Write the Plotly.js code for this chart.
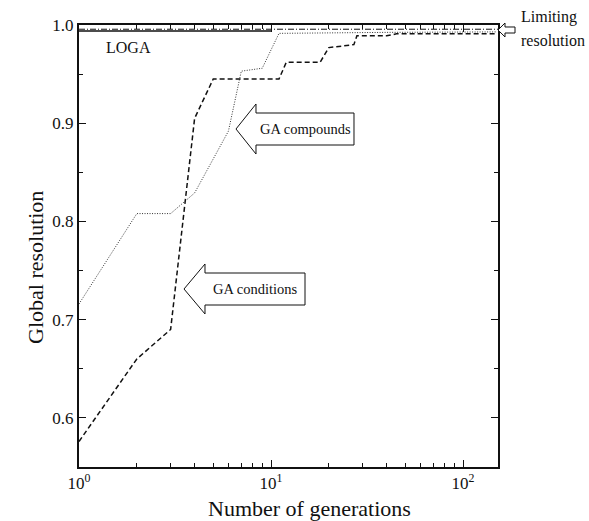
<!DOCTYPE html>
<html>
<head>
<meta charset="utf-8">
<script src="https://cdn.plot.ly/plotly-3.0.1.min.js"></script>
<style>html,body{margin:0;padding:0;background:#fff}</style>
</head>
<body>
<div id="chart" style="width:589px;height:521px"></div>
<script>
// GA conditions (dashed)
const condGen = [1, 2, 3, 4, 5, 11, 12, 18, 20, 27, 28, 40, 45, 150];
const condRes = [0.576, 0.660, 0.690, 0.905, 0.945, 0.945, 0.962, 0.962, 0.977, 0.980, 0.989, 0.989, 0.991, 0.991];
// GA compounds (dotted)
const compGen = [1, 2, 3, 4, 6, 7, 9, 11, 40, 150];
const compRes = [0.716, 0.808, 0.808, 0.829, 0.892, 0.953, 0.956, 0.9915, 0.9925, 0.993];
// LOGA (solid)
const logaGen = [1, 10];
const logaRes = [0.994, 0.994];
// Limiting resolution (dash-dot)
const limGen = [1, 152];
const limRes = [0.9957, 0.9957];

const xTickVals = [1, 10, 100];
const xTickText = ['10<sup>0</sup>', '10<sup>1</sup>', '10<sup>2</sup>'];
const xMinor = [2,3,4,5,6,7,8,9,20,30,40,50,60,70,80,90];
const yTickVals = [0.6, 0.7, 0.8, 0.9, 1.0];
const yTickText = ['0.6', '0.7', '0.8', '0.9', '1.0'];
const yMinor = [0.65, 0.75, 0.85, 0.95];

// plot area in pixels
const L = 79, R = 498, T = 25, B = 467;
const px = v => (v - L) / (R - L);
const py = v => (B - v) / (B - T);
function arrowPath(tipX, tipY, headX, headHalf, shaftHalf, endX) {
  const pts = [
    [tipX, tipY], [headX, tipY - headHalf], [headX, tipY - shaftHalf],
    [endX, tipY - shaftHalf], [endX, tipY + shaftHalf], [headX, tipY + shaftHalf],
    [headX, tipY + headHalf]
  ];
  return 'M ' + pts.map(p => px(p[0]).toFixed(4) + ' ' + py(p[1]).toFixed(4)).join(' L ') + ' Z';
}

const font = 'Liberation Serif, Times New Roman, serif';

const traces = [
  {x: limGen, y: limRes, mode: 'lines', line: {color: '#111', width: 1, dash: '6px,2px,1px,2px'}, name: 'Limiting'},
  {x: logaGen, y: logaRes, mode: 'lines', line: {color: '#111', width: 1.5}, name: 'LOGA'},
  {x: compGen, y: compRes, mode: 'lines', line: {color: '#333', width: 1, dash: '1px,1.5px'}, name: 'GA compounds'},
  {x: condGen, y: condRes, mode: 'lines', line: {color: '#111', width: 1.5, dash: '5px,3px'}, name: 'GA conditions'}
];

const layout = {
  width: 589, height: 521,
  margin: {l: L, r: 589 - R, t: T, b: 521 - B},
  paper_bgcolor: '#fff', plot_bgcolor: '#fff',
  showlegend: false,
  font: {family: font, size: 17, color: '#111'},
  xaxis: {
    type: 'log', range: [0, Math.log10(152)],
    showline: true, linewidth: 2, linecolor: '#111', mirror: 'ticks',
    ticks: 'inside', ticklen: 7, tickwidth: 1, tickcolor: '#111',
    tickvals: xTickVals, ticktext: xTickText,
    minor: {ticks: 'inside', ticklen: 4, tickwidth: 1, tickcolor: '#111', tickvals: xMinor, showgrid: false},
    showgrid: false, zeroline: false,
    tickfont: {family: font, size: 17, color: '#111'}
  },
  yaxis: {
    range: [0.55, 1.0],
    showline: true, linewidth: 2, linecolor: '#111', mirror: 'ticks',
    ticks: 'inside', ticklen: 7, tickwidth: 1, tickcolor: '#111',
    tickvals: yTickVals, ticktext: yTickText,
    minor: {ticks: 'inside', ticklen: 4, tickwidth: 1, tickcolor: '#111', tickvals: yMinor, showgrid: false},
    showgrid: false, zeroline: false,
    tickfont: {family: font, size: 17, color: '#111'}
  },
  shapes: [
    {type: 'path', xref: 'paper', yref: 'paper', path: arrowPath(236, 129, 256, 25, 16, 354), line: {color: '#111', width: 1}, fillcolor: '#fff'},
    {type: 'path', xref: 'paper', yref: 'paper', path: arrowPath(184, 289, 205, 25, 16, 305), line: {color: '#111', width: 1}, fillcolor: '#fff'},
    {type: 'path', xref: 'paper', yref: 'paper', path: arrowPath(498, 30, 505, 7, 3, 515), line: {color: '#111', width: 1}, fillcolor: '#fff'}
  ],
  annotations: [
    {xref: 'paper', yref: 'paper', x: px(309), y: py(508), xanchor: 'center', yanchor: 'middle', text: 'Number of generations', showarrow: false, font: {family: font, size: 22, color: '#111'}},
    {xref: 'paper', yref: 'paper', x: px(35), y: py(268), xanchor: 'center', yanchor: 'middle', textangle: -90, text: 'Global resolution', showarrow: false, font: {family: font, size: 22, color: '#111'}},
    {xref: 'paper', yref: 'paper', x: px(104), y: py(47), xanchor: 'left', yanchor: 'middle', text: 'LOGA', showarrow: false, font: {family: font, size: 16, color: '#111'}},
    {xref: 'paper', yref: 'paper', x: px(305), y: py(129), xanchor: 'center', yanchor: 'middle', text: 'GA compounds', showarrow: false, font: {family: font, size: 14.5, color: '#111'}},
    {xref: 'paper', yref: 'paper', x: px(255), y: py(289), xanchor: 'center', yanchor: 'middle', text: 'GA conditions', showarrow: false, font: {family: font, size: 14.5, color: '#111'}},
    {xref: 'paper', yref: 'paper', x: px(519), y: py(17), xanchor: 'left', yanchor: 'middle', text: 'Limiting', showarrow: false, font: {family: font, size: 16, color: '#111'}},
    {xref: 'paper', yref: 'paper', x: px(519), y: py(40), xanchor: 'left', yanchor: 'middle', text: 'resolution', showarrow: false, font: {family: font, size: 16, color: '#111'}}
  ]
};

Plotly.newPlot('chart', traces, layout, {displayModeBar: false, staticPlot: true});
</script>
</body>
</html>
